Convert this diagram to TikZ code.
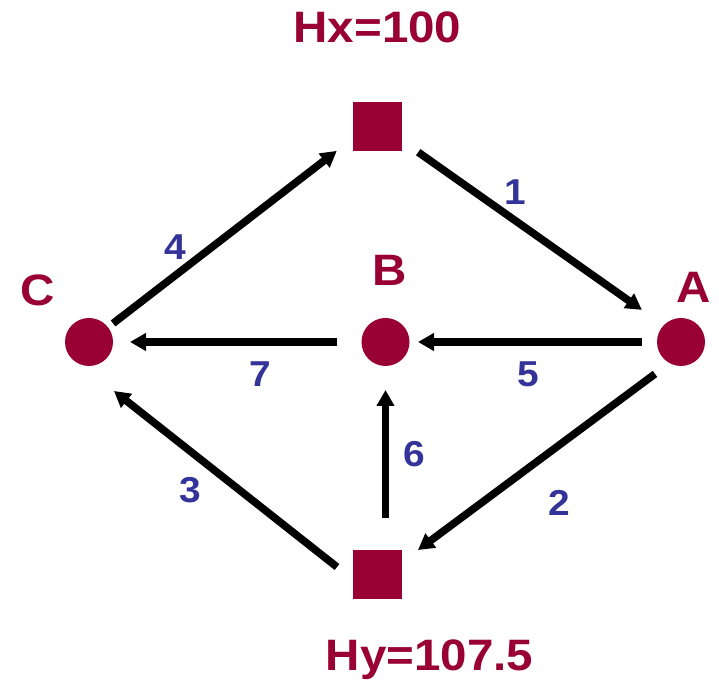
\documentclass[tikz,border=0pt]{standalone}
\usepackage{fontspec}
\setmainfont{Liberation Sans}[FakeStretch=1.08]
\usetikzlibrary{arrows.meta}
\definecolor{wine}{HTML}{990033}
\definecolor{numblue}{HTML}{333399}

\begin{document}
\begin{tikzpicture}[x=0.5pt, y=0.5pt,
		>={Triangle[length=8pt,width=8.5pt]},
		station/.style={circle, fill=wine, inner sep=0pt, minimum size=24pt},
		hub/.style={rectangle, fill=wine, inner sep=0pt, minimum size=24.5pt},
		placelbl/.style={text=wine, font=\fontsize{22}{26}\selectfont\bfseries, anchor=base},
		flow/.style={->, line width=3.8pt},
		numlbl/.style={text=numblue, font=\fontsize{18}{22}\selectfont\bfseries, anchor=base}]
		% 0. Page size
		\useasboundingbox (0,0) rectangle (719,683);

		% 1. Squares and circles
		\node[hub] (Hx) at (377.5,556.5) {};
		\node[hub] (Hy) at (377.5,108.5) {};
		\node[station] (A) at (681,341) {};
		\node[station] (B) at (385.5,341) {};
		\node[station] (C) at (89,341) {};

		% 2. Names
		\node[placelbl] (lblHx) at (377.5,640) {Hx=100};
		\node[placelbl] (lblHy) at (429.5,12) {Hy=107.5};
		\node[placelbl] (lblA) at (694,380) {A};
		\node[placelbl] (lblB) at (390,397) {B};
		\node[placelbl] (lblC) at (38,377) {C};

		% 3. Arrows
		% 1: Hx to A
		\draw[flow, shorten <=24.9pt, shorten >=23.9pt] ([yshift=1.5pt]Hx.center) -- ([yshift=2.25pt]A.center);
		% 2: A to Hy
		\draw[flow, shorten <=16.2pt, shorten >=25.2pt] ([yshift=-6.3pt]A.center) -- ([yshift=-2.8pt]Hy.center);
		% 3: Hy to C
		\draw[flow, shorten <=25.8pt, shorten >=15.9pt] ([yshift=-12.25pt]Hy.center) -- ([yshift=-14.65pt]C.center);
		% 4: C to Hx
		\draw[flow, shorten <=15.2pt, shorten >=25.7pt] (C.center) -- ([yshift=3.5pt]Hx.center);
		% 5: A to B
		\draw[flow, shorten <=19.5pt, shorten >=16.25pt] (A.center) -- (B.center);
		% 6: Hy to B
		\draw[flow, shorten <=28.25pt, shorten >=24pt] (B.center |- Hy.center) -- (B.center);
		% 7: B to C
		\draw[flow, shorten <=24.25pt, shorten >=20.5pt] (B.center) -- (C.center);

		% 4. Arrow numbers
		\node[numlbl] (n1) at (515,478) {1};
		\node[numlbl] (n2) at (559.5,167) {2};
		\node[numlbl] (n3) at (190,180) {3};
		\node[numlbl] (n4) at (175,423) {4};
		\node[numlbl] (n5) at (528,296) {5};
		\node[numlbl] (n6) at (414.5,216) {6};
		\node[numlbl] (n7) at (260,296) {7};
	\end{tikzpicture}
\end{document}
